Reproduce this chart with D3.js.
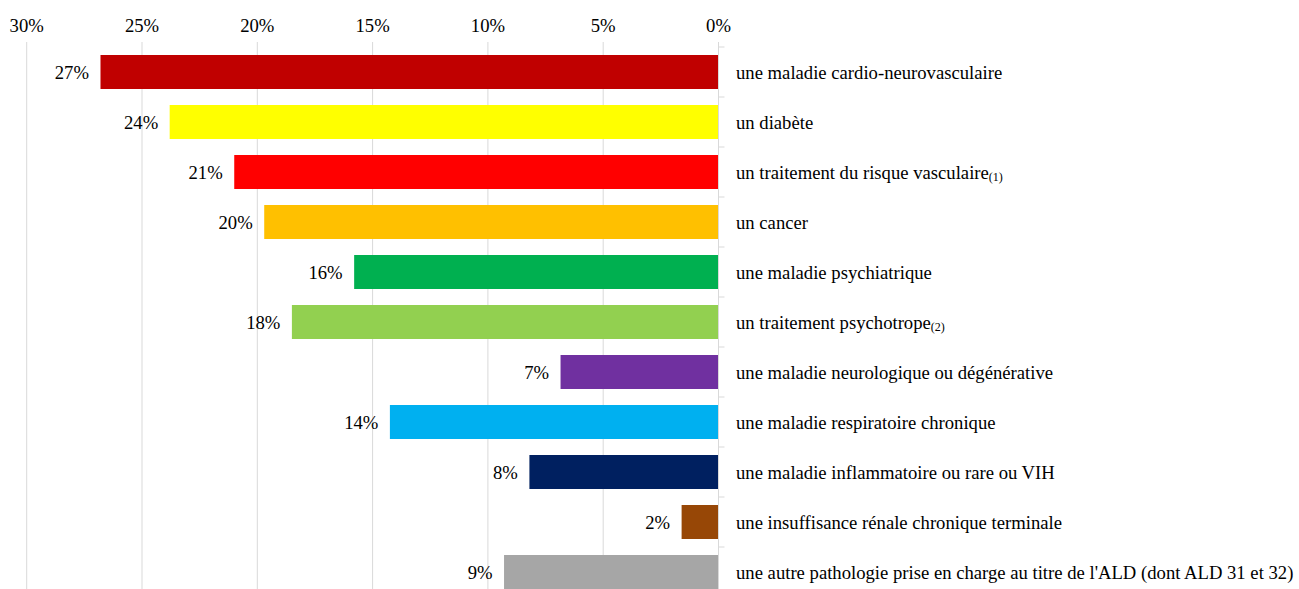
<!DOCTYPE html>
<html>
<head>
<meta charset="utf-8">
<script src="https://cdn.jsdelivr.net/npm/d3@7"></script>
<style>
  body { margin: 0; background: #fff; }
</style>
</head>
<body>
<div id="chart"></div>
<script>
// categories, valeurs (%), notes en indice
var categories = [
    "une maladie cardio-neurovasculaire",
    "un diabète",
    "un traitement du risque vasculaire",
    "un cancer",
    "une maladie psychiatrique",
    "un traitement psychotrope",
    "une maladie neurologique ou dégénérative",
    "une maladie respiratoire chronique",
    "une maladie inflammatoire ou rare ou VIH",
    "une insuffisance rénale chronique terminale",
    "une autre pathologie prise en charge au titre de l'ALD (dont ALD 31 et 32)"
];
var notes = ["", "", "(1)", "", "", "(2)", "", "", "", "", ""];
var values = [26.8, 23.8, 21.0, 19.7, 15.8, 18.5, 6.85, 14.25, 8.2, 1.6, 9.3];
var labels = ["27%", "24%", "21%", "20%", "16%", "18%", "7%", "14%", "8%", "2%", "9%"];
var colors = ["#C00000", "#FFFF00", "#FF0000", "#FFC000", "#00B050", "#92D050",
              "#7030A0", "#00B0F0", "#002060", "#974706", "#A6A6A6"];
var ticks = [30, 25, 20, 15, 10, 5, 0];

var W = 1299, H = 589;
var FONT = "'Liberation Serif', 'Times New Roman', serif";
var FS = 18.67;
var svg = d3.select("#chart").append("svg")
    .attr("width", W)
    .attr("height", H)
    .attr("font-family", FONT);

var x = d3.scaleLinear().domain([30, 0]).range([26.7, 718.5]);
var y = d3.scaleBand().domain(d3.range(categories.length)).range([47, 47 + 50 * categories.length])
    .paddingInner(0.32).paddingOuter(0.16);

// grille verticale
svg.append("g").selectAll("line").data(ticks.slice(0, -1)).enter().append("line")
    .attr("x1", function (d) { return x(d); })
    .attr("x2", function (d) { return x(d); })
    .attr("y1", 42).attr("y2", H)
    .attr("stroke", "#d9d9d9").attr("stroke-width", 1);

// étiquettes d'axe en haut
svg.append("g").selectAll("text").data(ticks).enter().append("text")
    .attr("x", function (d) { return x(d); })
    .attr("y", 31.5)
    .attr("text-anchor", "middle")
    .attr("font-size", FS)
    .text(function (d) { return d + "%"; });

// barres
svg.append("g").selectAll("rect").data(values).enter().append("rect")
    .attr("x", function (d) { return x(d); })
    .attr("y", function (d, i) { return y(i); })
    .attr("width", function (d) { return x(0) - x(d); })
    .attr("height", y.bandwidth())
    .attr("fill", function (d, i) { return colors[i]; });

// axe zéro + petits tirets entre catégories
svg.append("line")
    .attr("x1", x(0)).attr("x2", x(0))
    .attr("y1", 42).attr("y2", H)
    .attr("stroke", "#d9d9d9").attr("stroke-width", 1);
svg.append("g").selectAll("line").data(d3.range(categories.length + 1)).enter().append("line")
    .attr("x1", x(0)).attr("x2", x(0) + 6)
    .attr("y1", function (i) { return 47 + 50 * i; })
    .attr("y2", function (i) { return 47 + 50 * i; })
    .attr("stroke", "#d9d9d9").attr("stroke-width", 1);

// valeurs
svg.append("g").selectAll("text").data(values).enter().append("text")
    .attr("x", function (d) { return x(d) - 11.5; })
    .attr("y", function (d, i) { return y(i) + y.bandwidth() / 2 + 6.5; })
    .attr("text-anchor", "end")
    .attr("font-size", FS)
    .text(function (d, i) { return labels[i]; });

// libellés des catégories
var cat = svg.append("g").selectAll("text").data(categories).enter().append("text")
    .attr("x", 736)
    .attr("y", function (d, i) { return y(i) + y.bandwidth() / 2 + 6.5; })
    .attr("font-size", FS);
cat.append("tspan").text(function (d) { return d; });
cat.append("tspan")
    .attr("font-size", 12)
    .attr("dy", 2)
    .text(function (d, i) { return notes[i]; });
</script>
</body>
</html>
